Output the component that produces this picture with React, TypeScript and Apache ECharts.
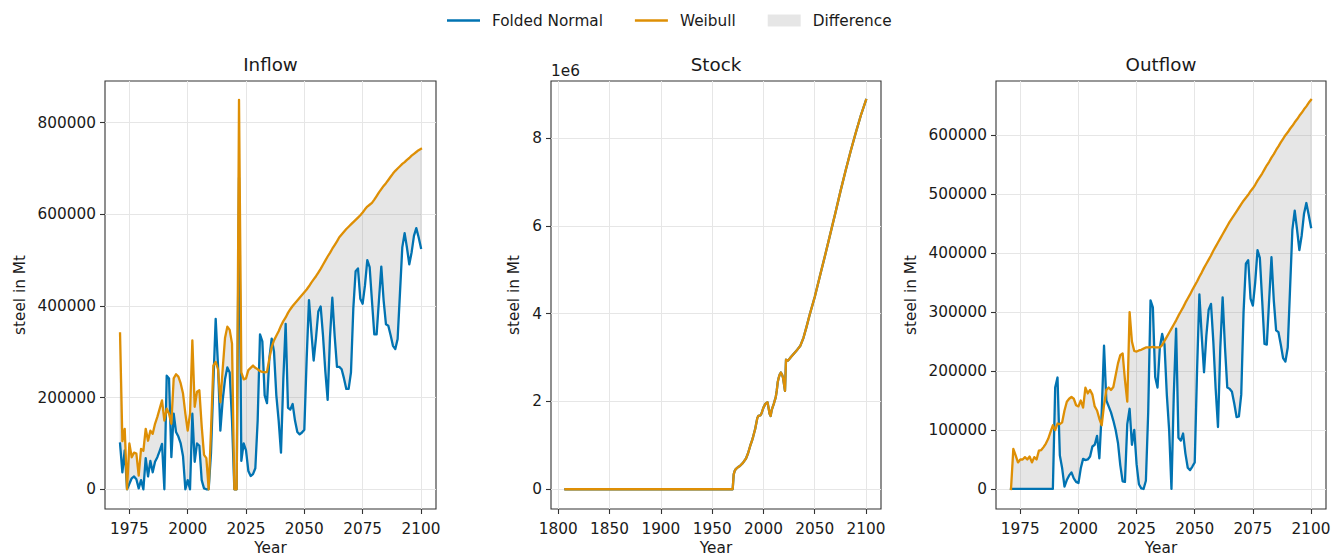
import React, { useEffect, useRef } from "react";
import * as echarts from "echarts";

const YEARS = Array.from({ length: 130 }, (_, i) => 1971 + i);

const INFLOW_FN = [
  100000, 37000, 85000, 0, 12000, 24000, 28000, 22000, 2000, 20000,
  0, 68000, 28000, 62000, 37000, 60000, 70000, 84000, 99000, 0,
  248000, 242000, 70000, 165000, 125000, 115000, 100000, 72000, 0, 20000,
  0, 165000, 60000, 100000, 95000, 20000, 2000, 0, 0, 80000,
  230000, 372000, 270000, 128000, 194000, 240000, 266000, 255000, 150000, 0,
  0, 680000, 62000, 100000, 85000, 40000, 29000, 33000, 46000, 150000,
  338000, 323000, 205000, 188000, 285000, 329000, 300000, 205000, 150000, 80000,
  240000, 361000, 178000, 174000, 186000, 150000, 125000, 120000, 124000, 130000,
  284000, 413000, 344000, 281000, 330000, 388000, 399000, 336000, 258000, 195000,
  331000, 418000, 335000, 267000, 267000, 262000, 242000, 219000, 219000, 255000,
  394000, 476000, 482000, 416000, 405000, 445000, 500000, 485000, 411000, 338000,
  338000, 413000, 486000, 412000, 360000, 357000, 336000, 313000, 306000, 328000,
  428000, 528000, 559000, 527000, 491000, 517000, 553000, 570000, 550000, 527000,
];

const INFLOW_W = [
  340000, 105000, 132000, 0, 100000, 70000, 80000, 78000, 30000, 88000,
  84000, 132000, 106000, 128000, 121000, 143000, 158000, 176000, 194000, 150000,
  176000, 165000, 143000, 242000, 251000, 246000, 231000, 209000, 165000, 128000,
  165000, 325000, 180000, 213000, 216000, 138000, 75000, 68000, 0, 130000,
  270000, 278000, 262000, 190000, 262000, 330000, 355000, 348000, 318000, 0,
  0, 850000, 255000, 240000, 242000, 260000, 265000, 270000, 265000, 262000,
  258000, 256000, 255000, 256000, 285000, 310000, 325000, 335000, 345000, 357000,
  367000, 375000, 385000, 393000, 400000, 406000, 412000, 418000, 424000, 430000,
  436000, 443000, 451000, 458000, 465000, 473000, 481000, 490000, 499000, 508000,
  516000, 525000, 533000, 541000, 550000, 556000, 562000, 568000, 573000, 578000,
  583000, 588000, 593000, 598000, 604000, 611000, 617000, 621000, 625000, 632000,
  640000, 648000, 655000, 662000, 668000, 675000, 682000, 689000, 695000, 700000,
  705000, 710000, 714000, 719000, 723000, 728000, 732000, 736000, 740000, 743000,
];

const OUTFLOW_FN = [
  0, 0, 0, 0, 0, 0, 0, 0, 0, 0,
  0, 0, 0, 0, 0, 0, 0, 0, 0, 172000,
  189000, 57000, 35000, 4000, 15000, 23000, 28000, 18000, 12000, 10000,
  35000, 51000, 49000, 50000, 55000, 72000, 75000, 90000, 52000, 130000,
  243000, 150000, 140000, 130000, 116000, 100000, 78000, 40000, 13000, 12000,
  110000, 136000, 75000, 100000, 42000, 8000, 1000, 0, 14000, 130000,
  320000, 308000, 190000, 172000, 240000, 263000, 245000, 160000, 100000, 0,
  160000, 272000, 87000, 82000, 94000, 60000, 36000, 32000, 38000, 45000,
  200000, 330000, 260000, 198000, 260000, 304000, 314000, 250000, 170000, 105000,
  240000, 325000, 241000, 172000, 170000, 165000, 145000, 122000, 123000, 160000,
  300000, 382000, 388000, 323000, 311000, 350000, 405000, 392000, 320000, 246000,
  245000, 320000, 393000, 320000, 269000, 266000, 245000, 222000, 216000, 240000,
  340000, 440000, 472000, 440000, 405000, 430000, 467000, 485000, 465000, 444000,
];

const OUTFLOW_W = [
  0, 68000, 57000, 45000, 50000, 50000, 54000, 50000, 55000, 45000,
  54000, 50000, 65000, 66000, 71000, 77000, 85000, 97000, 108000, 100000,
  111000, 110000, 113000, 133000, 148000, 153000, 156000, 153000, 142000, 140000,
  150000, 138000, 172000, 162000, 168000, 160000, 140000, 133000, 119000, 108000,
  142000, 168000, 172000, 168000, 173000, 193000, 213000, 227000, 230000, 185000,
  148000, 300000, 250000, 234000, 233000, 235000, 236000, 238000, 240000, 240000,
  240000, 241000, 240000, 240000, 240000, 244000, 251000, 258000, 265000, 272000,
  279000, 286000, 294000, 301000, 308000, 316000, 323000, 330000, 338000, 345000,
  352000, 360000, 367000, 375000, 382000, 389000, 396000, 404000, 411000, 418000,
  425000, 432000, 439000, 446000, 453000, 459000, 465000, 471000, 477000, 483000,
  489000, 494000, 499000, 505000, 510000, 516000, 523000, 529000, 535000, 542000,
  549000, 555000, 562000, 568000, 575000, 581000, 588000, 594000, 600000, 605000,
  611000, 616000, 622000, 627000, 633000, 638000, 644000, 649000, 655000, 660000,
];

const STOCK_YEARS = [
  1807, 1970, 1971, 1972, 1973, 1975, 1977, 1980, 1983, 1985, 1987, 1989, 1990,
  1992, 1994, 1995, 1997, 1998, 2000, 2002, 2004, 2005, 2006, 2007, 2008, 2010,
  2012, 2013, 2014, 2015, 2016, 2017, 2018, 2019, 2020, 2021, 2022, 2024, 2027,
  2030, 2033, 2036, 2039, 2042, 2045, 2050, 2055, 2060, 2065, 2070, 2075, 2080,
  2085, 2090, 2095, 2100,
];
const STOCK_VALUES = [
  0, 0, 340000, 420000, 460000, 500000, 530000, 600000, 700000, 820000, 980000,
  1120000, 1200000, 1380000, 1620000, 1670000, 1680000, 1720000, 1860000,
  1950000, 1980000, 1850000, 1720000, 1670000, 1800000, 1940000, 2100000,
  2250000, 2450000, 2550000, 2620000, 2660000, 2620000, 2550000, 2400000,
  2240000, 2950000, 2930000, 3020000, 3100000, 3180000, 3270000, 3450000,
  3700000, 3970000, 4380000, 4850000, 5320000, 5800000, 6280000, 6780000,
  7250000, 7700000, 8120000, 8520000, 8870000,
];

const X_TICKS = [1975, 2000, 2025, 2050, 2075, 2100];
const STOCK_X_TICKS = [1800, 1850, 1900, 1950, 2000, 2050, 2100];
const INFLOW_Y_TICKS = [0, 200000, 400000, 600000, 800000];
const STOCK_Y_TICKS = [0, 2000000, 4000000, 6000000, 8000000];
const OUTFLOW_Y_TICKS = [0, 100000, 200000, 300000, 400000, 500000, 600000];

const TITLES = ["Inflow", "Stock", "Outflow"];
const SERIES_NAMES = ["Folded Normal", "Weibull", "Difference"];

const BLUE = "#0173B2";
const ORANGE = "#DE8F05";
const FILL = "rgba(128,128,128,0.2)";
const TXT = "#1a1a1a";
const AX = "#333333";
const GRIDC = "#e6e6e6";
const FONT = "DejaVu Sans";
const FS = 15.3;
const LINE_ICON = "path://M0,0L33,0L33,2.3L0,2.3Z";

const GRIDS = [
  { left: 105, top: 81, width: 331, height: 428 },
  { left: 551, top: 81, width: 330, height: 428 },
  { left: 996, top: 81, width: 330, height: 428 },
];

function pairs(xs: number[], ys: number[]) {
  return xs.map((x, i) => [x, ys[i]]);
}

function xAxisCfg(idx: number, min: number, max: number, ticks: number[]) {
  return {
    type: "value",
    gridIndex: idx,
    min,
    max,
    name: "Year",
    nameLocation: "middle",
    nameGap: 31,
    nameTextStyle: { fontFamily: FONT, fontSize: FS, color: TXT, lineHeight: 15 },
    axisLine: { show: false, onZero: false },
    axisTick: { show: true, inside: false, length: 5, lineStyle: { color: AX, width: 1.1 }, customValues: ticks },
    axisLabel: {
      customValues: ticks,
      formatter: (v: number) => String(v),
      margin: 12,
      fontFamily: FONT,
      fontSize: FS,
      color: TXT,
    },
    splitLine: { show: true, lineStyle: { color: GRIDC, width: 1 } },
  };
}

function yAxisCfg(idx: number, min: number, max: number, ticks: number[], gap: number, fmt: (v: number) => string) {
  return {
    type: "value",
    gridIndex: idx,
    min,
    max,
    name: "steel in Mt",
    nameLocation: "middle",
    nameGap: gap,
    nameRotate: 90,
    nameTextStyle: { fontFamily: FONT, fontSize: FS, color: TXT },
    axisLine: { show: false, onZero: false },
    axisTick: { show: true, inside: false, length: 5, lineStyle: { color: AX, width: 1.1 }, customValues: ticks },
    axisLabel: {
      customValues: ticks,
      formatter: fmt,
      margin: 9,
      fontFamily: FONT,
      fontSize: FS,
      color: TXT,
    },
    splitLine: { show: true, lineStyle: { color: GRIDC, width: 1 } },
  };
}

function lineSeries(idx: number, name: string, color: string, data: number[][], z: number) {
  return {
    type: "line",
    name,
    xAxisIndex: idx,
    yAxisIndex: idx,
    data,
    symbol: "none",
    showSymbol: false,
    z,
    color,
    lineStyle: { color, width: 2.3, join: "round", cap: "square" },
    itemStyle: { color },
  };
}

function fillSeries(idx: number, upper: number[], lower: number[]) {
  return {
    type: "custom",
    name: SERIES_NAMES[2],
    xAxisIndex: idx,
    yAxisIndex: idx,
    data: [[YEARS[0], lower[0]]],
    z: 1,
    silent: true,
    itemStyle: { color: FILL },
    renderItem: (_params: any, api: any) => {
      const pts: number[][] = [];
      for (let i = 0; i < YEARS.length; i++) pts.push(api.coord([YEARS[i], upper[i]]));
      for (let i = YEARS.length - 1; i >= 0; i--) pts.push(api.coord([YEARS[i], lower[i]]));
      return {
        type: "polygon",
        shape: { points: pts },
        style: { fill: FILL, stroke: FILL, lineWidth: 1 },
      };
    },
  };
}

export default function App() {
  const ref = useRef<HTMLDivElement>(null);

  useEffect(() => {
    document.body.style.margin = "0";
    if (!ref.current) return;
    const chart = echarts.init(ref.current, undefined, { renderer: "svg" });
    const centers = GRIDS.map((g) => g.left + g.width / 2);
    const option: any = {
      animation: false,
      backgroundColor: "#ffffff",
      textStyle: { fontFamily: FONT },
      legend: {
        left: 442,
        top: 8,
        itemWidth: 33,
        itemHeight: 12,
        itemGap: 32,
        symbolKeepAspect: true,
        selectedMode: false,
        textStyle: { fontFamily: FONT, fontSize: FS, color: TXT, padding: [0, 0, 0, 7] },
        data: [
          { name: SERIES_NAMES[0], icon: LINE_ICON, itemStyle: { color: BLUE, borderWidth: 0 } },
          { name: SERIES_NAMES[1], icon: LINE_ICON, itemStyle: { color: ORANGE, borderWidth: 0 } },
          { name: SERIES_NAMES[2], icon: "rect", itemStyle: { color: FILL, borderWidth: 0 } },
        ],
      },
      graphic: [
        ...TITLES.map((t, i) => ({
          type: "text",
          x: centers[i],
          y: 64,
          silent: true,
          style: {
            text: t,
            fill: TXT,
            font: `18.3px '${FONT}'`,
            align: "center",
            verticalAlign: "middle",
            textAlign: "center",
            textVerticalAlign: "middle",
          },
        })),
        {
          type: "text",
          x: 551,
          y: 71,
          silent: true,
          style: {
            text: "1e6",
            fill: TXT,
            font: `${FS}px '${FONT}'`,
            align: "left",
            verticalAlign: "middle",
            textAlign: "left",
            textVerticalAlign: "middle",
          },
        },
      ],
      grid: GRIDS.map((g) => ({
        ...g,
        show: true,
        borderColor: AX,
        borderWidth: 1.1,
        backgroundColor: "transparent",
        containLabel: false,
        outerBoundsMode: "none",
      })),
      xAxis: [
        xAxisCfg(0, 1964.55, 2106.45, X_TICKS),
        xAxisCfg(1, 1792.9, 2114.6, STOCK_X_TICKS),
        xAxisCfg(2, 1964.55, 2106.45, X_TICKS),
      ],
      yAxis: [
        yAxisCfg(0, -43000, 891000, INFLOW_Y_TICKS, 78, (v) => String(v)),
        yAxisCfg(1, -450000, 9300000, STOCK_Y_TICKS, 30, (v) => String(Math.round(v / 1e6))),
        yAxisCfg(2, -34000, 692000, OUTFLOW_Y_TICKS, 78, (v) => String(v)),
      ],
      series: [
        fillSeries(0, INFLOW_W, INFLOW_FN),
        lineSeries(0, SERIES_NAMES[0], BLUE, pairs(YEARS, INFLOW_FN), 2),
        lineSeries(0, SERIES_NAMES[1], ORANGE, pairs(YEARS, INFLOW_W), 3),
        lineSeries(1, SERIES_NAMES[0], BLUE, pairs(STOCK_YEARS, STOCK_VALUES), 2),
        lineSeries(1, SERIES_NAMES[1], ORANGE, pairs(STOCK_YEARS, STOCK_VALUES), 3),
        fillSeries(2, OUTFLOW_W, OUTFLOW_FN),
        lineSeries(2, SERIES_NAMES[0], BLUE, pairs(YEARS, OUTFLOW_FN), 2),
        lineSeries(2, SERIES_NAMES[1], ORANGE, pairs(YEARS, OUTFLOW_W), 3),
      ],
    };
    chart.setOption(option);
    return () => chart.dispose();
  }, []);

  return <div ref={ref} style={{ width: 1331, height: 556 }} />;
}
